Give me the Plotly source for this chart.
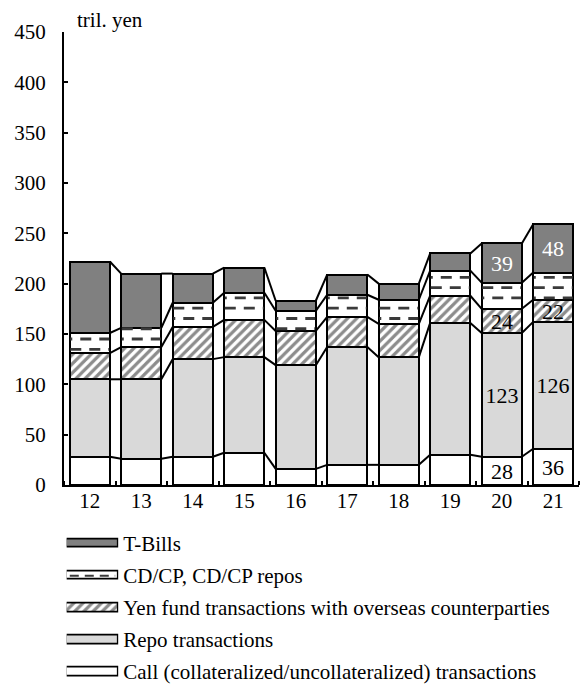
import plotly.graph_objects as go

years = ["12", "13", "14", "15", "16", "17", "18", "19", "20", "21"]
call = [28, 26, 28, 32, 16, 20, 20, 30, 28, 36]
repo = [77, 79, 97, 95, 103, 117, 107, 131, 123, 126]
yen = [26, 32, 32, 37, 34, 30, 33, 27, 24, 22]
cdcp = [20, 19, 24, 27, 20, 22, 24, 25, 26, 27]
tbills = [71, 54, 29, 25, 10, 20, 16, 17, 39, 48]
labelled = ["20", "21"]

series_names = [
    "T-Bills",
    "CD/CP, CD/CP repos",
    "Yen fund transactions with overseas counterparties",
    "Repo transactions",
    "Call (collateralized/uncollateralized) transactions",
]

FONT = "Liberation Serif"
BW = 0.78
# dash texture (style constants): row spacing/anchor in axis units
DASH_STEP = 10.2
DASH_ANCHOR = 134.8
DASH_A = "11px,8px"
DASH_B = "2px,8px,9px,0px"
DASH_COLOR = "#3a3a3a"

xpos = list(range(len(years)))

styles = {
    "call": dict(color="white"),
    "repo": dict(color="#d9d9d9"),
    "yen": dict(color="white", pattern=dict(shape="/", fgcolor="#1a1a1a", bgcolor="white", size=6.5, solidity=0.5)),
    "cdcp": dict(color="white"),
    "tbills": dict(color="#808080"),
}
order = [("call", call, "black"), ("repo", repo, "black"), ("yen", yen, "black"),
         ("cdcp", cdcp, "black"), ("tbills", tbills, "white")]

fig = go.Figure()
cum = [0] * len(years)
levels = []
bases = {}
for key, vals, tcol in order:
    bases[key] = cum[:]
    txt = [str(v) if years[i] in labelled and key != "cdcp" else "" for i, v in enumerate(vals)]
    fig.add_trace(go.Bar(
        x=xpos, y=vals, base=cum[:], width=BW,
        marker=dict(line=dict(color="black", width=2), **styles[key]),
        text=txt, textposition="inside", insidetextanchor="middle",
        constraintext="none", textangle=0,
        textfont=dict(family=FONT, size=22, color=tcol),
        showlegend=False, hoverinfo="skip",
    ))
    cum = [c + v for c, v in zip(cum, vals)]
    levels.append(cum[:])

# dashed texture inside the CD/CP segments
rows = {0: ([], []), 1: ([], [])}
for i in range(len(years)):
    lo = bases["cdcp"][i]
    hi = lo + cdcp[i]
    k = int((lo - DASH_ANCHOR) // DASH_STEP) - 1
    while True:
        yv = DASH_ANCHOR + k * DASH_STEP
        if yv >= hi - 0.5:
            break
        if yv > lo + 1.5:
            xs, ys = rows[k % 2]
            xs += [i - BW / 2 + 0.012, i + BW / 2 - 0.012, None]
            ys += [yv, yv, None]
        k += 1
for par, dash in ((0, DASH_A), (1, DASH_B)):
    xs, ys = rows[par]
    fig.add_trace(go.Scatter(x=xs, y=ys, mode="lines",
                             line=dict(color=DASH_COLOR, width=2.8, dash=dash),
                             showlegend=False, hoverinfo="skip"))

# connector lines between adjacent bars
for lev in levels:
    xs, ys = [], []
    for i in range(len(years) - 1):
        xs += [i + BW / 2, i + 1 - BW / 2, None]
        ys += [lev[i], lev[i + 1], None]
    fig.add_trace(go.Scatter(x=xs, y=ys, mode="lines", line=dict(color="black", width=2),
                             showlegend=False, hoverinfo="skip"))

# legend swatches (horizontal bars on a small auxiliary subplot)
leg_keys = ["tbills", "cdcp", "yen", "repo", "call"]
for k, key in enumerate(leg_keys):
    fig.add_trace(go.Bar(
        x=[1], y=[k], base=0, orientation="h", width=0.27,
        marker=dict(line=dict(color="black", width=1.8), **styles[key]),
        xaxis="x2", yaxis="y2", showlegend=False, hoverinfo="skip",
    ))
cd_row = leg_keys.index("cdcp")
fig.add_trace(go.Scatter(x=[0.06, 0.94], y=[cd_row, cd_row], mode="lines",
                         line=dict(color=DASH_COLOR, width=2, dash="9px,6px"),
                         xaxis="x2", yaxis="y2", showlegend=False, hoverinfo="skip"))

fig.update_layout(
    width=582, height=693,
    margin=dict(l=64, r=3, t=32, b=5, autoexpand=False),
    plot_bgcolor="white", paper_bgcolor="white",
    barmode="overlay", bargap=0,
    font=dict(family=FONT, size=21, color="black"),
    xaxis=dict(
        domain=[0, 1], range=[-0.5, 9.5], tickmode="array", tickvals=xpos, ticktext=years,
        ticks="", showline=True, linecolor="black", linewidth=2, showgrid=False, zeroline=False,
        ticklabelstandoff=-4, automargin=False,
        minor=dict(ticks="inside", tickmode="linear", tick0=0.5, dtick=1, ticklen=4,
                   tickwidth=1.5, tickcolor="black", showgrid=False),
        anchor="y",
    ),
    yaxis=dict(
        domain=[0.3095, 1], range=[0, 450], dtick=50, ticks="inside", ticklen=4, tickwidth=2,
        tickcolor="black", showline=True, linecolor="black", linewidth=2, showgrid=False,
        zeroline=False, ticklabelstandoff=12, anchor="x", automargin=False,
    ),
    xaxis2=dict(domain=[0.0052, 0.1054], range=[0, 1], visible=False, anchor="y2",
                fixedrange=True, automargin=False),
    yaxis2=dict(domain=[0, 0.2447], range=[4.5, -0.5], anchor="x2", side="right",
                tickmode="array", tickvals=list(range(5)), ticktext=series_names,
                ticks="", showline=False, showgrid=False, zeroline=False, ticklabelstandoff=4,
                automargin=False),
    annotations=[dict(text="tril. yen", xref="paper", yref="paper", x=0.021, y=1.019,
                      xanchor="left", yanchor="middle", showarrow=False,
                      font=dict(family=FONT, size=21, color="black"))],
)

fig.write_html("out.html")
